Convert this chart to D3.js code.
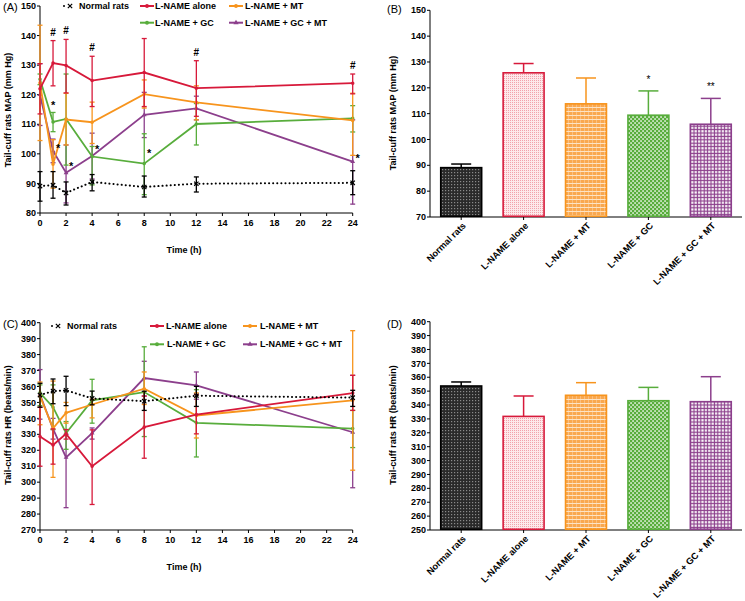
<!DOCTYPE html>
<html><head><meta charset="utf-8">
<script src="https://cdn.jsdelivr.net/npm/d3@7/dist/d3.min.js"></script>
<style>body{margin:0;background:#fff}svg{font-family:"Liberation Sans",Arial,sans-serif}</style>
</head><body>
<svg id="c" width="745" height="601"></svg>
<script>
// ---------- DATA ----------
const times = [0, 1, 2, 4, 8, 12, 24];
const xTicks = [0, 2, 4, 6, 8, 10, 12, 14, 16, 18, 20, 22, 24];
const seriesNames = ["Normal rats", "L-NAME alone", "L-NAME + MT", "L-NAME + GC", "L-NAME + GC + MT"];

// Panel A (MAP, mm Hg): mean, upper and lower error limits
const mapNormal = [89.1, 89.4, 86.8, 90.5, 88.8, 89.9, 90.2];
const mapNormalHi = [94, 94, 90.5, 93, 92.5, 92.2, 94.3];
const mapNormalLo = [84, 85, 82.7, 87.5, 85.4, 87.1, 86.2];
const mapAlone = [122, 130.7, 129.9, 124.8, 127.5, 122.2, 123.9];
const mapAloneHi = [130.5, 138.3, 138.7, 133, 139, 131.5, 127];
const mapAloneLo = [113.5, 123, 120.6, 116, 116, 112.7, 120.3];
const mapMT = [124, 96.5, 111.6, 110.7, 120.2, 117.4, 111.3];
const mapMTHi = [143.5, 104.8, 120.5, 117.5, 125, 123, 120.5];
const mapMTLo = [104.5, 88.4, 103, 103.5, 115.5, 111.5, 99.5];
const mapGC = [125.2, 110.8, 111.8, 99.1, 96.7, 110.1, 112];
const mapGCHi = [127, 114, 127, 102.5, 106.8, 117, 116.3];
const mapGCLo = [123.4, 107.5, 96.2, 89.5, 86.2, 103, 107.4];
const mapGCMT = [120, 101, 93.6, 99.3, 113.2, 115.4, 97.4];
const mapGCMTHi = [130.5, 105, 103, 107, 120.8, 119.5, 111.5];
const mapGCMTLo = [109.6, 97, 83.4, 91.5, 105.5, 111.5, 83];
const mapHashT = [1, 2, 4, 12, 24];
const mapStarT = [1, 1, 2, 4, 8, 24];
const mapStarV = [116.8, 102.3, 96.3, 102, 100.7, 98.8];
const mapStarShift = [0, 1, 1, 1, 1, 1];

// Panel C (HR, beats/min)
const hrNormal = [354.6, 357.1, 357.6, 352.5, 350.8, 354.2, 353];
const hrNormalHi = [362, 364.7, 366.4, 357.1, 357, 360.1, 357.6];
const hrNormalLo = [347, 349.2, 348, 348.5, 345, 347.5, 347.5];
const hrAlone = [328.6, 323.3, 330.3, 310, 334.5, 342.4, 355.9];
const hrAloneHi = [347, 333.4, 333, 332.8, 354, 355, 367];
const hrAloneLo = [310, 311.3, 327, 286, 315, 330.3, 345];
const hrMT = [354, 333.8, 343.5, 348.7, 358.6, 341.8, 351.3];
const hrMTHi = [362.8, 363.4, 350, 352, 369.1, 356, 395];
const hrMTLo = [336, 303, 337, 340.3, 348.7, 327.7, 307.5];
const hrGC = [356, 347, 330.7, 351.3, 356.5, 337.2, 333.6];
const hrGCHi = [361, 361, 338, 364.5, 384.9, 358, 345];
const hrGCLo = [348, 333, 320.6, 337, 328.6, 315.8, 321.7];
const hrGCMT = [355, 333.4, 315.5, 330.7, 365.3, 360.7, 331.3];
const hrGCMTHi = [370.6, 340, 330, 334, 375.8, 369.1, 367];
const hrGCMTLo = [339.5, 327, 284, 327, 354, 352, 296.5];

// Panels B and D (bars): mean and SD
const barMAP = [89.1, 125.8, 113.8, 109.4, 105.9];
const barMAPErr = [1.4, 3.6, 10, 9.4, 10];
const barMAPSig = ["", "", "", "*", "**"];
const barHR = [353.7, 331.8, 347, 343.1, 342.4];
const barHRErr = [2.9, 14.7, 9.1, 9.6, 18];

const mapTicks = d3.range(80, 151, 10);
const mapBarTicks = d3.range(70, 151, 10);
const hrTicks = d3.range(270, 401, 10);
const hrBarTicks = d3.range(250, 401, 10);

// ---------- STYLE ----------
const colors = ["#000000", "#d7193a", "#f7941d", "#58ad3c", "#8c3f8c"];
const svg = d3.select("#c");
const defs = svg.append("defs");

function pattern(id, size, bg, draw) {
  const p = defs.append("pattern").attr("id", id).attr("patternUnits", "userSpaceOnUse")
    .attr("width", size).attr("height", size);
  p.append("rect").attr("width", size).attr("height", size).attr("fill", bg);
  draw(p);
}
pattern("p0", 3, "#2a2a2a", p => { p.append("rect").attr("x", 1).attr("y", 1).attr("width", 1.2).attr("height", 1.2).attr("fill", "#8a8a8a"); });
pattern("p1", 2, "#fde9eb", p => { p.append("rect").attr("width", 1).attr("height", 1).attr("fill", "#f2a2ab"); });
pattern("p2", 4, "#f9a84f", p => {
  p.append("rect").attr("y", 3).attr("width", 4).attr("height", 1).attr("fill", "#fde3c4");
  p.append("rect").attr("x", 0).attr("width", 1).attr("height", 3).attr("fill", "#fbbf7f");
});
pattern("p3", 4, "#58ad3c", p => {
  p.append("rect").attr("x", 0.3).attr("y", 0.3).attr("width", 1.5).attr("height", 1.5).attr("fill", "#ffffff");
  p.append("rect").attr("x", 2.3).attr("y", 2.3).attr("width", 1.5).attr("height", 1.5).attr("fill", "#ffffff");
});
pattern("p4", 3.4, "#8c3f8c", p => {
  p.append("rect").attr("x", 1).attr("y", 1).attr("width", 2.2).attr("height", 2.2).attr("fill", "#ffffff");
});

// ---------- HELPERS ----------
function yAxis(g, y, x0, ticks) {
  g.append("line").attr("x1", x0).attr("x2", x0).attr("y1", y.range()[0]).attr("y2", y.range()[1])
    .attr("stroke", "#000").attr("stroke-width", 1);
  ticks.forEach(t => {
    g.append("line").attr("x1", x0 - 3).attr("x2", x0).attr("y1", y(t)).attr("y2", y(t)).attr("stroke", "#000");
    g.append("text").attr("x", x0 - 4).attr("y", y(t)).attr("dy", "0.35em").attr("text-anchor", "end")
      .attr("font-size", 9).attr("font-weight", "bold").text(t);
  });
}
function yTitle(g, x, yc, txt) {
  g.append("text").attr("transform", `translate(${x},${yc}) rotate(-90)`).attr("text-anchor", "middle")
    .attr("font-size", 9).attr("font-weight", "bold").text(txt);
}

function linePanel(o) {
  const g = svg.append("g");
  const x = d3.scaleLinear().domain([0, 24]).range([40, 352.7]);
  const y = d3.scaleLinear().domain(o.yDomain).range(o.yRange);
  yAxis(g, y, 40, o.yTicks);
  const yb = o.yRange[0];
  g.append("line").attr("x1", 40).attr("x2", 352.7).attr("y1", yb).attr("y2", yb).attr("stroke", "#000");
  xTicks.forEach(t => {
    g.append("line").attr("x1", x(t)).attr("x2", x(t)).attr("y1", yb).attr("y2", yb + 3).attr("stroke", "#000");
    g.append("text").attr("x", x(t)).attr("y", yb + 13).attr("text-anchor", "middle")
      .attr("font-size", 9).attr("font-weight", "bold").text(t);
  });
  g.append("text").attr("x", 184).attr("y", yb + 40).attr("text-anchor", "middle")
    .attr("font-size", 9).attr("font-weight", "bold").text("Time (h)");
  yTitle(g, 11, o.titleY, o.title);
  g.append("text").attr("x", 3).attr("y", o.panelY).attr("font-size", 11).text(o.panel);

  const line = d3.line().x((d, i) => x(times[i])).y(d => y(d));
  const order = [4, 3, 2, 1, 0];
  order.forEach(si => {
    const s = o.series[si], c = colors[si];
    times.forEach((t, i) => {
      const xx = x(t);
      g.append("line").attr("x1", xx).attr("x2", xx).attr("y1", y(s.hi[i])).attr("y2", y(s.lo[i]))
        .attr("stroke", c).attr("stroke-width", 1.3);
      [s.hi[i], s.lo[i]].forEach(v => g.append("line").attr("x1", xx - 2.5).attr("x2", xx + 2.5)
        .attr("y1", y(v)).attr("y2", y(v)).attr("stroke", c).attr("stroke-width", 1.3));
    });
    g.append("path").attr("d", line(s.mean)).attr("fill", "none").attr("stroke", c)
      .attr("stroke-width", si === 0 ? 2 : 1.8)
      .attr("stroke-dasharray", si === 0 ? "0.1,4" : null).attr("stroke-linecap", si === 0 ? "round" : "butt");
    s.mean.forEach((v, i) => {
      if (si === 0) {
        g.append("path").attr("d", d3.symbol(d3.symbolX, 14)()).attr("transform", `translate(${x(times[i])},${y(v)})`)
          .attr("stroke", "#000").attr("stroke-width", 1.2).attr("fill", "none");
      } else {
        g.append("path").attr("d", d3.symbol(si === 4 ? d3.symbolTriangle : d3.symbolCircle, 10)())
          .attr("transform", `translate(${x(times[i])},${y(v)})`).attr("fill", c);
      }
    });
  });
  const L = o.legend;
  const lg = g.append("g").attr("font-size", 9).attr("font-weight", "bold");
  lg.append("circle").attr("cx", L.nx).attr("cy", L.r1).attr("r", 1).attr("fill", "#000");
  lg.append("path").attr("d", d3.symbol(d3.symbolX, 14)()).attr("transform", `translate(${L.nx + 6},${L.r1})`)
    .attr("stroke", "#000").attr("stroke-width", 1.2);
  lg.append("text").attr("x", L.nt).attr("y", L.r1).attr("dy", "0.35em").text(seriesNames[0]);
  const items = [[1, L.c1, L.r1, L.t1], [2, L.c2, L.r1, L.t2], [3, L.c1, L.r2, L.t3], [4, L.c2, L.r2, L.t4]];
  items.forEach(([si, lx, ly, tx]) => {
    lg.append("line").attr("x1", lx).attr("x2", lx + 14).attr("y1", ly).attr("y2", ly)
      .attr("stroke", colors[si]).attr("stroke-width", 2);
    lg.append("path").attr("d", d3.symbol(si === 4 ? d3.symbolTriangle : d3.symbolCircle, 12)())
      .attr("transform", `translate(${lx + 7},${ly})`).attr("fill", colors[si]);
    lg.append("text").attr("x", tx).attr("y", ly).attr("dy", "0.35em").text(seriesNames[si]);
  });
  return { g, x, y };
}

function barPanel(o) {
  const g = svg.append("g");
  const x = d3.scaleBand().domain(seriesNames).range([430, 742]).paddingInner(0.32).paddingOuter(0.16);
  const y = d3.scaleLinear().domain(o.yDomain).range(o.yRange);
  yAxis(g, y, 430, o.yTicks);
  const yb = o.yRange[0];
  g.append("line").attr("x1", 430).attr("x2", 742).attr("y1", yb).attr("y2", yb).attr("stroke", "#000");
  yTitle(g, 396, o.titleY, o.title);
  g.append("text").attr("x", 387).attr("y", o.panelY).attr("font-size", 11).text(o.panel);
  seriesNames.forEach((n, i) => {
    const cx = x(n) + x.bandwidth() / 2;
    const top = y(o.mean[i] + o.err[i]);
    g.append("line").attr("x1", cx).attr("x2", cx).attr("y1", y(o.mean[i])).attr("y2", top)
      .attr("stroke", colors[i]).attr("stroke-width", 1.5);
    g.append("line").attr("x1", cx - 10).attr("x2", cx + 10).attr("y1", top).attr("y2", top)
      .attr("stroke", colors[i]).attr("stroke-width", 1.5);
    g.append("rect").attr("x", x(n) + 0.75).attr("y", y(o.mean[i])).attr("width", x.bandwidth() - 1.5)
      .attr("height", yb - y(o.mean[i]) - 0.75).attr("fill", `url(#p${i})`)
      .attr("stroke", colors[i]).attr("stroke-width", 1.6);
    g.append("line").attr("x1", cx).attr("x2", cx).attr("y1", yb).attr("y2", yb + 3).attr("stroke", "#000");
    g.append("text").attr("transform", `translate(${cx + 3},${yb + 7}) rotate(-45)`).attr("text-anchor", "end")
      .attr("dy", "0.35em").attr("font-size", 9.2).attr("font-weight", "bold").text(n);
    if (o.sig && o.sig[i]) {
      g.append("text").attr("x", cx).attr("y", top - 8).attr("text-anchor", "middle")
        .attr("font-size", 10).text(o.sig[i]);
    }
  });
}

// ---------- PANEL A ----------
const A = linePanel({
  yDomain: [80, 150], yRange: [213, 6], yTicks: mapTicks, title: "Tail-cuff rats MAP (mm Hg)", titleY: 110,
  panel: "(A)", panelY: 11,
  series: [
    { mean: mapNormal, hi: mapNormalHi, lo: mapNormalLo },
    { mean: mapAlone, hi: mapAloneHi, lo: mapAloneLo },
    { mean: mapMT, hi: mapMTHi, lo: mapMTLo },
    { mean: mapGC, hi: mapGCHi, lo: mapGCLo },
    { mean: mapGCMT, hi: mapGCMTHi, lo: mapGCMTLo }
  ],
  legend: { r1: 6, r2: 22.7, nx: 64, nt: 79, c1: 140, c2: 229, t1: 155, t2: 245, t3: 155, t4: 245 }
});
mapHashT.forEach(t => {
  const i = times.indexOf(t);
  A.g.append("text").attr("x", A.x(t)).attr("y", A.y(mapAloneHi[i]) - 5).attr("text-anchor", "middle")
    .attr("font-size", 10).attr("font-weight", "bold").text("#");
});
mapStarT.forEach((t, k) => {
  A.g.append("text").attr("x", A.x(t) + mapStarShift[k] * 5).attr("y", A.y(mapStarV[k]) + 5)
    .attr("text-anchor", "middle").attr("font-size", 11).attr("font-weight", "bold").text("*");
});

// ---------- PANEL B ----------
barPanel({ yDomain: [70, 150], yRange: [217, 10.3], yTicks: mapBarTicks, title: "Tail-cuff rats MAP (mm Hg)",
  titleY: 113, panel: "(B)", panelY: 13, mean: barMAP, err: barMAPErr, sig: barMAPSig });

// ---------- PANEL C ----------
linePanel({
  yDomain: [270, 400], yRange: [530, 322.7], yTicks: hrTicks, title: "Tail-cuff rats HR (beats/min)", titleY: 425,
  panel: "(C)", panelY: 328,
  series: [
    { mean: hrNormal, hi: hrNormalHi, lo: hrNormalLo },
    { mean: hrAlone, hi: hrAloneHi, lo: hrAloneLo },
    { mean: hrMT, hi: hrMTHi, lo: hrMTLo },
    { mean: hrGC, hi: hrGCHi, lo: hrGCLo },
    { mean: hrGCMT, hi: hrGCMTHi, lo: hrGCMTLo }
  ],
  legend: { r1: 326, r2: 344.3, nx: 52, nt: 67, c1: 150, c2: 243, t1: 166, t2: 260, t3: 167, t4: 260 }
});

// ---------- PANEL D ----------
barPanel({ yDomain: [250, 400], yRange: [530, 321.7], yTicks: hrBarTicks, title: "Tail-cuff rats HR (beats/min)",
  titleY: 425, panel: "(D)", panelY: 328, mean: barHR, err: barHRErr });
</script>
</body></html>
